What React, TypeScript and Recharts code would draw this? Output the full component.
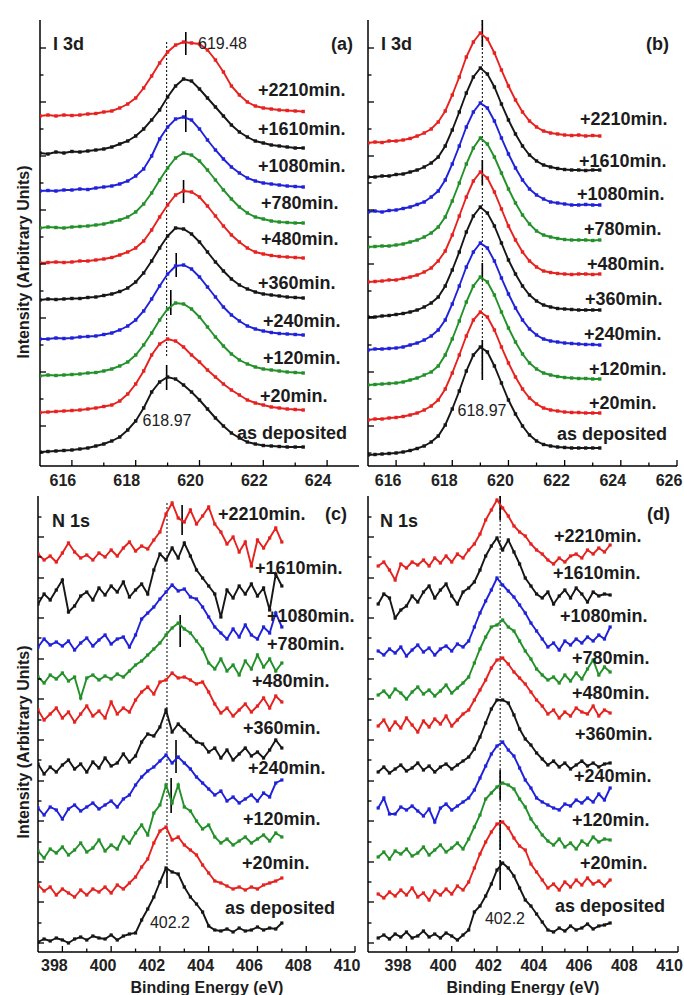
import { LineChart, Line, XAxis, YAxis, ReferenceLine } from "recharts";

const FONT = '"Liberation Sans", Arial, Helvetica, sans-serif';
const RED = "#e5221f";
const BLACK = "#161616";
const BLUE = "#1f22d8";
const GREEN = "#23902a";

const seriesNames = ["+2210min.", "+1610min.", "+1080min.", "+780min.", "+480min.", "+360min.", "+240min.", "+120min.", "+20min.", "as deposited"];
const seriesColors = [RED, BLACK, BLUE, GREEN, RED, BLACK, BLUE, GREEN, RED, BLACK];

// binding energy grids (eV)
const i3dEnergy = [615, 615.25, 615.5, 615.75, 616, 616.25, 616.5, 616.75, 617, 617.25, 617.5, 617.75, 618, 618.25, 618.5, 618.75, 619, 619.25, 619.5, 619.75, 620, 620.25, 620.5, 620.75, 621, 621.25, 621.5, 621.75, 622, 622.25, 622.5, 622.75, 623, 623.25];
const n1sEnergy = [396.75, 397, 397.25, 397.5, 397.75, 398, 398.25, 398.5, 398.75, 399, 399.25, 399.5, 399.75, 400, 400.25, 400.5, 400.75, 401, 401.25, 401.5, 401.75, 402, 402.25, 402.5, 402.75, 403, 403.25, 403.5, 403.75, 404, 404.25, 404.5, 404.75, 405, 405.25, 405.5, 405.75, 406, 406.25, 406.5, 406.75, 407];

// (a) I 3d, intensity above each spectrum's own baseline (top: +2210min ... bottom: as deposited)
const a2210 = [0, 1, 0, 1, 0.5, 1, 2, 2.5, 4, 5, 8, 12, 18, 28, 40, 53, 64, 71, 74, 73, 72, 66, 56, 44, 30, 21, 14, 10, 8, 7, 6, 5.5, 5, 4.5];
const a1610 = [0, -1, 1, 0, 1.5, 1, 2, 3, 4, 6, 9, 12, 17, 24, 33, 43, 56, 67, 74, 72, 64, 55, 46, 37, 28, 21, 16, 12, 10, 8, 7, 6, 5, 5];
const a1080 = [0, 0.5, 0, 1, 1, 2, 1.5, 3, 4, 5, 7, 10, 15, 22, 35, 52, 64, 72, 74, 71, 62, 51, 41, 32, 24, 18, 13, 10, 8, 7, 6, 5, 4.5, 4];
const a780 = [0, 1, 0.5, 0, 1, 1.5, 2, 3, 4, 6, 8, 11, 16, 24, 35, 48, 60, 70, 75, 73, 67, 58, 48, 38, 29, 21, 15, 11, 9, 7, 6, 5.5, 5, 5];
const a480 = [0, 0.5, 1, 0.5, 1, 2, 2, 3, 4, 5.5, 8, 11, 15, 22, 33, 46, 58, 68, 72, 71, 66, 57, 47, 37, 28, 21, 15, 11, 9, 7.5, 6.5, 6, 5.5, 5];
const a360 = [0, 1, 0.5, 1, 1.5, 1.5, 2.5, 3, 4.5, 6, 8.5, 12, 18, 27, 39, 52, 64, 72, 71, 66, 58, 48, 38, 29, 21, 15, 11, 8, 6, 5, 4, 3, 2.5, 2];
const a240 = [0, 0, 1, 0.5, 1, 2, 2.5, 3, 4.5, 6, 9, 13, 19, 28, 40, 53, 65, 73, 74, 70, 62, 52, 42, 32, 24, 18, 13, 10, 8, 6.5, 5.5, 5, 4.5, 4];
const a120 = [0, 1, 0.5, 1, 1.5, 2, 3, 3.5, 5, 7, 10, 14, 21, 31, 43, 56, 67, 73, 72, 67, 59, 49, 39, 30, 22, 16, 12, 9, 7, 6, 5, 4, 3.5, 3];
const a20 = [0.5, 1, 1.5, 2, 2.5, 3, 4, 5, 6.5, 8, 12, 19, 29, 42, 58, 69, 74, 72, 66, 58, 51, 43, 36, 29, 23, 18, 13, 10, 8, 6, 5, 4, 3.5, 3];
const aDep = [0, 0.5, 1, 1.5, 2, 3, 4, 6, 8, 11, 15, 22, 31, 44, 60, 70, 75, 73, 67, 60, 52, 43, 34, 26, 19, 14, 10, 8, 6.5, 6, 5.5, 5, 5, 5];
const aOffsets = [350, 313, 275, 238, 203, 166, 127, 90, 53, 14];

// (b) I 3d
const b2210 = [0, 1, 0.5, 2, 2, 3, 4.5, 7, 10, 14, 21, 32, 48, 66, 86, 101, 110, 104, 90, 73, 57, 43, 31, 22, 16, 12, 10, 9, 8, 7.5, 8, 7, 7.5, 7];
const b1610 = [0, 0, 1, 1, 2.5, 3, 5, 7, 10, 14, 20, 31, 47, 65, 84, 100, 109, 103, 90, 73, 57, 43, 31, 22, 16, 12, 10, 8.5, 7.5, 7, 7, 6.5, 7, 7];
const b1080 = [0, 1, 0, 1.5, 2, 3.5, 5, 7.5, 10, 15, 21, 32, 48, 66, 85, 100, 109, 104, 91, 74, 58, 44, 32, 23, 17, 13, 10, 9, 8, 7, 7, 7.5, 7, 7];
const b780 = [0, 0.5, 1, 1, 2, 3, 5, 7, 10, 14, 20, 30, 46, 64, 83, 99, 109, 103, 90, 74, 58, 44, 32, 23, 16, 12, 10, 8.5, 7.5, 7, 7, 7, 6.5, 7];
const b480 = [0, 0.5, 1, 2, 2, 3.5, 5, 7, 10, 14, 21, 31, 47, 66, 85, 101, 110, 104, 90, 73, 56, 42, 30, 21, 15, 11, 9.5, 8.5, 8, 7.5, 8, 8, 7.5, 8];
const b360 = [0, 0, 1, 1.5, 2.5, 3.5, 5, 7, 10, 14, 20, 31, 47, 65, 85, 101, 110, 104, 91, 74, 57, 43, 31, 22, 16, 12, 10, 8.5, 8, 7.5, 7, 7, 7, 7];
const b240 = [0, 1, 1, 1.5, 2, 3, 5, 7, 10, 14, 20, 30, 46, 64, 83, 98, 107, 102, 89, 72, 56, 42, 30, 21, 15, 11, 9, 8, 7, 6.5, 6, 5.5, 5.5, 5];
const b120 = [0, 0.5, 1, 1.5, 2, 3, 5, 7, 10, 13, 19, 30, 46, 64, 83, 99, 108, 103, 90, 73, 57, 43, 31, 22, 16, 12, 10, 8.5, 7.5, 7, 6.5, 6.5, 6, 6];
const b20 = [0, 1, 1, 2, 2.5, 3.5, 5, 7, 10, 14, 20, 31, 47, 65, 84, 100, 108, 103, 90, 73, 57, 43, 31, 22, 16, 12, 10, 9, 8, 7.5, 7.5, 7, 7, 7];
const bDep = [0, 0.5, 1, 1.5, 2, 3, 4.5, 6.5, 9, 13, 19, 30, 46, 64, 84, 100, 108, 103, 89, 72, 55, 41, 29, 20, 14, 10.5, 9, 8, 7.5, 7, 7, 7, 7, 7];
const bOffsets = [323, 289, 254, 219, 184, 149, 116, 81, 46, 11];

// (c) N 1s
const c2210 = [4, 8, 2, 6, 0, 9, 19, 10, 4, 7, 2, 9, 5, 12, 6, 14, 20, 11, 16, 13, 22, 30, 48, 59, 44, 40, 52, 38, 46, 55, 38, 30, 18, 25, 10, 20, -4, 22, 14, 24, 34, 20];
const c1610 = [2, -4, 6, 0, 10, 20, -12, -6, 4, 8, 0, 12, 5, 14, 8, 18, 3, 10, 16, 6, 30, 46, 40, 52, 42, 57, 44, 30, 22, 14, 6, -17, 10, 2, 14, 6, 16, 4, 12, -10, 26, 14];
const c1080 = [6, 0, 8, 2, 5, 1, 6, -3, 4, 9, 1, 7, 12, 3, 8, 10, 0, 12, 28, 34, 40, 48, 55, 62, 56, 58, 50, 48, 40, 30, 20, 14, 8, 18, 10, 22, 12, 8, 20, 14, 34, 20];
const c780 = [3, 6, 0, 8, 4, 10, 2, 6, -15, 5, 8, 3, 7, 4, 9, 6, 12, 18, 22, 28, 34, 40, 48, 55, 60, 54, 50, 42, 34, 20, 14, 24, 12, 18, 8, 22, 14, 28, 16, 24, 12, 20];
const c480 = [4, 10, 0, 6, 12, 2, 8, -2, 6, 14, 4, 9, 2, 18, 6, 12, 8, 20, 28, 33, 26, 38, 40, 47, 42, 43, 40, 36, 38, 28, 16, 7, 12, 4, 10, 16, 8, 14, 22, 12, 24, 18];
const c360 = [2, 8, -2, 5, 0, 7, 12, 3, 8, 0, 10, 4, 14, 6, 9, 18, 10, 16, 30, 38, 36, 45, 62, 40, 48, 42, 36, 30, 28, 20, 24, 14, 22, 12, 18, 24, 16, 20, 14, 22, 32, 24];
const c240 = [0, 5, -2, 6, 3, -6, 4, 8, 2, 6, 10, 4, 8, 12, 6, 14, 18, 28, 36, 42, 46, 52, 58, 50, 56, 50, 44, 36, 30, 24, 18, 22, 12, 16, 10, 14, 18, 12, 20, 16, 30, 33];
const c120 = [0, 4, -3, 6, 2, 8, 0, 5, 12, 3, 7, 15, 4, 10, 6, 18, 12, 22, 30, 20, 42, 50, 70, 52, 70, 48, 44, 34, 26, 30, 18, 12, 16, 10, 14, 18, 12, 16, 20, 14, 22, 18];
const c20 = [0, 10, 4, 8, 0, 6, 2, -2, 5, 0, 6, 3, 8, 2, 10, 6, 12, 18, 28, 36, 52, 64, 68, 55, 58, 50, 45, 40, 30, 22, 14, 12, 9, 6, 8, 5, 8, 6, 10, 12, 14, 17];
const cDep = [2, 0, 3, 1, 4, 2, -1, 3, 5, 2, 6, 4, 3, 7, 2, 6, 8, 9, 22, 33, 45, 60, 74, 70, 68, 55, 45, 38, 30, 16, 12, 11, 13, 10, 14, 11, 12, 15, 12, 14, 13, 19];
const cOffsets = [390, 352, 305, 269, 232, 180, 139, 97, 57, 10];

// (d) N 1s
const d2210 = [2, 6, -2, -12, 4, 0, 6, 3, 8, 2, 10, 5, 12, 6, 14, 10, 18, 24, 34, 48, 58, 68, 60, 52, 42, 36, 32, 24, 18, 14, 8, 4, 10, 6, 12, 14, 10, 18, 14, 20, 16, 23];
const d1610 = [-4, 6, 2, -18, -10, -6, 4, -2, 8, 14, 2, 10, 16, 4, -4, 8, 12, 18, 30, 44, 54, 62, 50, 60, 48, 36, 22, 14, 6, 2, 8, -4, 4, 10, 2, 12, 6, -2, 8, 4, 6, 5];
const d1080 = [2, -2, 4, 0, 6, -3, 3, 8, 1, 5, -2, 4, 7, 2, 9, 6, 12, 26, 40, 52, 63, 75, 68, 62, 56, 48, 40, 30, 22, 14, 6, 10, 3, 12, 8, 14, 10, 16, 12, 18, 14, 26];
const d780 = [2, 6, 0, 8, 4, -2, 5, 10, 3, 7, 1, 6, 12, 4, 9, 14, 20, 34, 48, 60, 70, 72, 77, 70, 66, 56, 46, 38, 28, 22, 17, 20, 14, 22, 16, 24, 18, 28, 37, 22, 30, 25];
const d480 = [4, 10, 0, 8, 2, 12, 5, -2, 9, 3, 11, 6, 14, 4, 10, 16, 20, 30, 40, 50, 62, 70, 72, 66, 58, 52, 46, 38, 30, 24, 16, 20, 12, 18, 14, 22, 18, 16, 24, 14, 20, 17];
const d360 = [3, 8, 2, 6, 10, 4, 7, 12, 5, 9, 3, 8, 11, 6, 10, 14, 18, 26, 38, 52, 66, 75, 75, 72, 60, 46, 36, 30, 22, 16, 10, 14, 8, 12, 6, 10, 14, 9, 12, 8, 11, 12];
const d240 = [4, 14, -2, -2, 5, 2, 6, 1, -4, 3, -10, 4, 8, 2, 6, 10, 14, 22, 34, 46, 58, 66, 70, 62, 56, 44, 32, 24, 14, 10, 7, 4, 2, 8, 6, 12, 9, 14, 10, 18, 12, 24];
const d120 = [0, 5, -2, 6, 3, 8, 1, 4, 10, 2, 7, 12, 5, 9, 14, 8, 18, 30, 42, 58, 64, 70, 74, 72, 68, 58, 50, 38, 30, 22, 16, 12, 18, 10, 14, 8, 16, 12, 20, 15, 18, 17];
const d20 = [4, 0, 6, 2, 8, 3, 10, 1, 5, -2, 7, 3, 9, 4, 12, 8, 16, 30, 44, 56, 66, 74, 76, 70, 60, 52, 48, 34, 26, 18, 10, 14, 8, 16, 11, 18, 13, 20, 14, 17, 12, 18];
const dDep = [2, 5, 1, 6, 3, 8, 2, 4, 9, 3, 6, 2, 7, 4, 0, 5, 10, 28, 34, 44, 56, 70, 77, 72, 64, 52, 40, 34, 26, 18, 10, 8, 12, 9, 14, 10, 12, 16, 11, 14, 15, 17];
const dOffsets = [384, 352, 299, 255, 222, 177, 140, 95, 54, 12];

// axis ticks
const i3dMajorA = [616, 618, 620, 622, 624];
const i3dMinorA = [617, 619, 621, 623];
const i3dMajorB = [616, 618, 620, 622, 624, 626];
const i3dMinorB = [617, 619, 621, 623, 625];
const n1sMajor = [398, 400, 402, 404, 406, 408, 410];
const n1sMinor = [399, 401, 403, 405, 407, 409];
const yMajorTop = [40, 94, 148, 202, 256, 310, 364, 418];
const yMinorTop = [13, 67, 121, 175, 229, 283, 337, 391];
const yMajorBot = [9, 50, 90, 131, 171, 212, 253, 293, 334, 374, 415];
const yMinorBot = [29, 70, 110, 151, 192, 232, 273, 314, 354, 395, 435];

// peak-position guides: [energy, from, to]
const dottedA = [618.97, 424, 109];
const peakMarksA = [[619.57, 434, 411], [619.57, 356, 334], [619.5, 286, 263], [619.27, 213, 189], [619.1, 176, 151], [618.97, 101, 76]];
const dottedB = [619.07, 446, 91];
const peakMarksB = [[619.07, 446, 419], [619.07, 306, 281], [619.07, 203, 186], [619.07, 126, 86]];
const dottedC = [402.29, 449, 79];
const peakMarksC = [[402.91, 447, 417], [402.83, 337, 305], [402.66, 212, 179], [402.46, 174, 139], [402.29, 84, 64]];
const dottedD = [402.14, 456, 77];
const peakMarksD = [[402.14, 456, 432], [402.14, 182, 152], [402.14, 132, 102], [402.14, 92, 62]];

function makeRows(energy: number[], curves: number[][], offsets: number[]) {
  return energy.map((e, i) => {
    const row: Record<string, number> = { e };
    curves.forEach((c, j) => {
      row["s" + j] = c[i] + offsets[j];
    });
    return row;
  });
}

function tickFactory(side: string, major: number[], dx = 0, dy = 0) {
  return (props: any) => {
    const { x, y, payload } = props;
    const isMajor = major.includes(payload.value);
    const len = isMajor ? 6 : 3.5;
    let line;
    if (side === "bottom") line = { x1: x, x2: x, y1: y, y2: y - len };
    else if (side === "top") line = { x1: x, x2: x, y1: y, y2: y + len };
    else if (side === "left") line = { x1: x, x2: x + len, y1: y, y2: y };
    else line = { x1: x, x2: x - len, y1: y, y2: y };
    return (
      <g>
        <line {...line} stroke="#000" strokeWidth={1.3} />
        {side === "bottom" && isMajor && (
          <text x={x + dx} y={y + dy} textAnchor="middle" fontFamily={FONT} fontWeight="bold" fontSize={16} fill="#222">
            {payload.value}
          </text>
        )}
      </g>
    );
  };
}

type PanelProps = {
  left: number;
  top: number;
  width: number;
  height: number;
  plotTop: number;
  plotRight: number;
  yAxisWidth: number;
  energy: number[];
  curves: number[][];
  offsets: number[];
  xDomain: [number, number];
  xMajor: number[];
  xMinor: number[];
  yMajor: number[];
  yMinor: number[];
  yMax: number;
  rightMinor: boolean;
  labelDx: number;
  labelDy: number;
  dotted: number[];
  marks: number[][];
  dotSize: number;
};

function Panel(p: PanelProps) {
  const rows = makeRows(p.energy, p.curves, p.offsets);
  const xTicks = [...p.xMajor, ...p.xMinor].sort((a, b) => a - b);
  const yTicks = [...p.yMajor, ...p.yMinor].sort((a, b) => a - b);
  const rightTicks = p.rightMinor ? yTicks : p.yMajor;
  return (
    <div style={{ position: "absolute", left: p.left, top: p.top }}>
      <LineChart width={p.width} height={p.height} data={rows} margin={{ top: p.plotTop, right: p.plotRight, bottom: 0, left: 0 }}>
        <XAxis dataKey="e" type="number" domain={p.xDomain} allowDataOverflow ticks={xTicks} interval={0} height={34} tickSize={0} tickMargin={0} axisLine={{ stroke: "#000", strokeWidth: 1.5 }} tickLine={false} tick={tickFactory("bottom", p.xMajor, p.labelDx, p.labelDy)} />
        <XAxis xAxisId="top" orientation="top" dataKey="e" type="number" domain={p.xDomain} allowDataOverflow ticks={xTicks} interval={0} height={0} tickSize={0} tickMargin={0} axisLine={{ stroke: "#000", strokeWidth: 1.5 }} tickLine={false} tick={tickFactory("top", p.xMajor)} />
        <YAxis type="number" domain={[0, p.yMax]} allowDataOverflow ticks={yTicks} interval={0} width={p.yAxisWidth} tickSize={0} tickMargin={0} axisLine={{ stroke: "#000", strokeWidth: 1.5 }} tickLine={false} tick={tickFactory("left", p.yMajor)} />
        <YAxis yAxisId="right" orientation="right" type="number" domain={[0, p.yMax]} allowDataOverflow ticks={rightTicks} interval={0} width={0} tickSize={0} tickMargin={0} axisLine={{ stroke: "#000", strokeWidth: 1.5 }} tickLine={false} tick={tickFactory("right", p.yMajor)} />
        <ReferenceLine segment={[{ x: p.dotted[0], y: p.dotted[1] }, { x: p.dotted[0], y: p.dotted[2] }]} stroke="#000" strokeWidth={1} strokeDasharray="2 2" />
        {p.marks.map((m, i) => (
          <ReferenceLine key={"m" + i} segment={[{ x: m[0], y: m[1] }, { x: m[0], y: m[2] }]} stroke="#000" strokeWidth={1.6} />
        ))}
        {p.curves.map((_, j) => (
          <Line
            key={"s" + j}
            dataKey={"s" + j}
            type="linear"
            stroke={seriesColors[j]}
            strokeWidth={1.9}
            isAnimationActive={false}
            dot={(d: any) => (
              <rect key={"d" + j + "-" + d.index} x={d.cx - p.dotSize / 2} y={d.cy - p.dotSize / 2} width={p.dotSize} height={p.dotSize} fill={seriesColors[j]} />
            )}
          />
        ))}
      </LineChart>
    </div>
  );
}

// text positions [x start, y centre]
const labelPosA = [[258, 89], [258, 128], [258, 165], [261, 202], [261, 238], [258, 282], [263, 320], [263, 357], [260, 395], [237, 432]];
const labelPosB = [[580, 118], [579, 160], [577, 193], [584, 228], [587, 263], [585, 298], [584, 333], [589, 368], [589, 402], [557, 433]];
const labelPosC = [[218, 513], [255, 567], [267, 615], [267, 643], [252, 680], [243, 727], [248, 767], [243, 818], [242, 862], [225, 907]];
const labelPosD = [[554, 535], [553, 572], [560, 615], [572, 657], [572, 692], [575, 733], [574, 775], [572, 819], [580, 862], [555, 905]];

const bold = { fontFamily: FONT, fontWeight: "bold" as const, fill: "#1c1c1c" };

function Overlay() {
  const sets = [labelPosA, labelPosB, labelPosC, labelPosD];
  return (
    <svg width={684} height={995} style={{ position: "absolute", left: 0, top: 0, pointerEvents: "none" }}>
      {sets.map((pos, s) =>
        pos.map((pt, j) => (
          <text key={s + "-" + j} x={pt[0]} y={pt[1] + 6.5} fontSize={18} {...bold}>
            {seriesNames[j]}
          </text>
        ))
      )}
      <text x={53} y={49.5} fontSize={18} {...bold}>I 3d</text>
      <text x={331} y={49.5} fontSize={18} {...bold}>(a)</text>
      <text x={381} y={49.5} fontSize={18} {...bold}>I 3d</text>
      <text x={646} y={49.5} fontSize={18} {...bold}>(b)</text>
      <text x={52} y={526.5} fontSize={18} {...bold}>N 1s</text>
      <text x={325} y={519.5} fontSize={18} {...bold}>(c)</text>
      <text x={380} y={526.5} fontSize={18} {...bold}>N 1s</text>
      <text x={647} y={519.5} fontSize={18} {...bold}>(d)</text>
      <text x={198} y={49} fontSize={16} fontFamily={FONT} fill="#222">619.48</text>
      <text x={167} y={426} fontSize={16} fontFamily={FONT} fill="#222" textAnchor="middle">618.97</text>
      <text x={482} y={416} fontSize={16} fontFamily={FONT} fill="#222" textAnchor="middle">618.97</text>
      <text x={170} y={928} fontSize={16} fontFamily={FONT} fill="#222" textAnchor="middle">402.2</text>
      <text x={505} y={924} fontSize={16} fontFamily={FONT} fill="#222" textAnchor="middle">402.2</text>
      <text x={207} y={993} fontSize={16} textAnchor="middle" {...bold}>Binding Energy (eV)</text>
      <text x={523} y={993} fontSize={16} textAnchor="middle" {...bold}>Binding Energy (eV)</text>
      <text transform="translate(28.5,262) rotate(-90)" fontSize={16} textAnchor="middle" {...bold}>Intensity (Arbitrary Units)</text>
      <text transform="translate(28.5,742) rotate(-90)" fontSize={16} textAnchor="middle" {...bold}>Intensity (Arbitrary Units)</text>
    </svg>
  );
}

export default function App() {
  return (
    <div style={{ position: "absolute", left: 0, top: 0, width: 684, height: 995, background: "#fff", overflow: "hidden" }}>
      <Panel left={0} top={0} width={365} height={500} plotTop={20} plotRight={6} yAxisWidth={40}
        energy={i3dEnergy} curves={[a2210, a1610, a1080, a780, a480, a360, a240, a120, a20, aDep]} offsets={aOffsets}
        xDomain={[615, 625]} xMajor={i3dMajorA} xMinor={i3dMinorA} yMajor={yMajorTop} yMinor={yMinorTop} yMax={446}
        rightMinor={true} labelDx={-9} labelDy={20} dotted={dottedA} marks={peakMarksA} dotSize={3.4} />
      <Panel left={328} top={0} width={356} height={500} plotTop={20} plotRight={7} yAxisWidth={40}
        energy={i3dEnergy} curves={[b2210, b1610, b1080, b780, b480, b360, b240, b120, b20, bDep]} offsets={bOffsets}
        xDomain={[615, 626]} xMajor={i3dMajorB} xMinor={i3dMinorB} yMajor={yMajorTop} yMinor={yMinorTop} yMax={446}
        rightMinor={true} labelDx={-8} labelDy={20} dotted={dottedB} marks={peakMarksB} dotSize={3.4} />
      <Panel left={0} top={476} width={361} height={510} plotTop={20} plotRight={6} yAxisWidth={38}
        energy={n1sEnergy} curves={[c2210, c1610, c1080, c780, c480, c360, c240, c120, c20, cDep]} offsets={cOffsets}
        xDomain={[397, 410]} xMajor={n1sMajor} xMinor={n1sMinor} yMajor={yMajorBot} yMinor={yMinorBot} yMax={456}
        rightMinor={false} labelDx={-8} labelDy={19} dotted={dottedC} marks={peakMarksC} dotSize={3.2} />
      <Panel left={328} top={476} width={356} height={510} plotTop={20} plotRight={6} yAxisWidth={40}
        energy={n1sEnergy} curves={[d2210, d1610, d1080, d780, d480, d360, d240, d120, d20, dDep]} offsets={dOffsets}
        xDomain={[396.3, 410]} xMajor={n1sMajor} xMinor={n1sMinor} yMajor={yMajorBot} yMinor={yMinorBot} yMax={456}
        rightMinor={false} labelDx={-8.5} labelDy={19} dotted={dottedD} marks={peakMarksD} dotSize={3.2} />
      <Overlay />
    </div>
  );
}
